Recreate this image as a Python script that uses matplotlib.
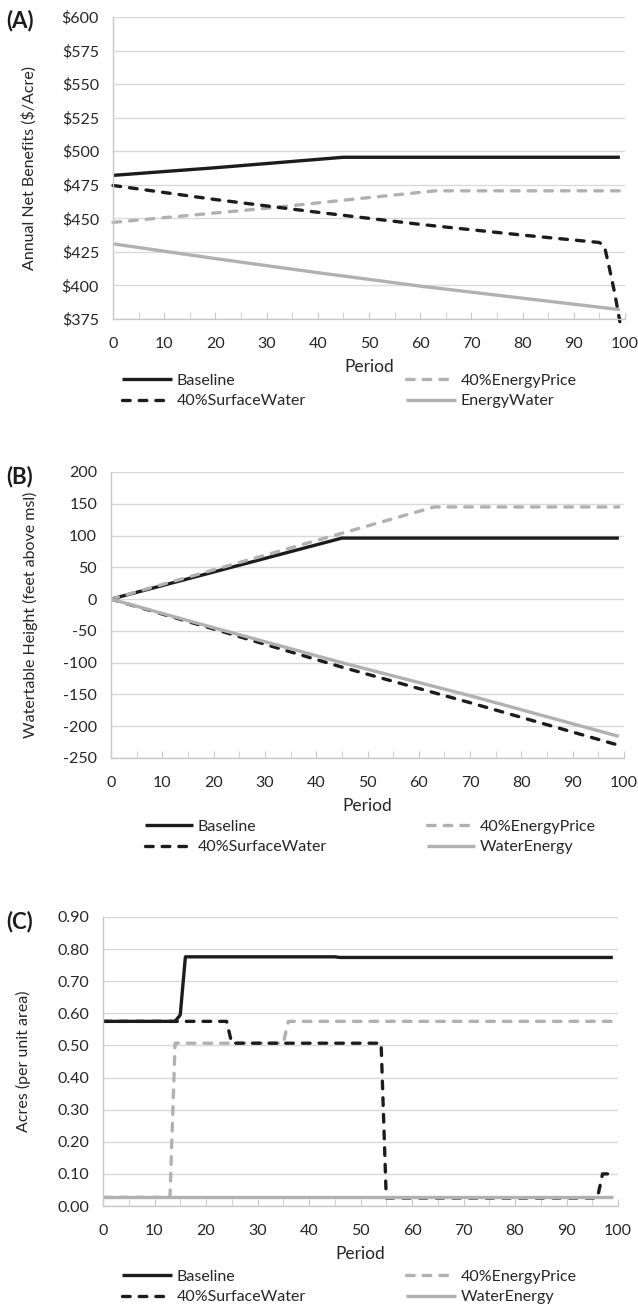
import matplotlib
matplotlib.use("Agg")
import matplotlib.pyplot as plt
from matplotlib.lines import Line2D
from matplotlib.ticker import FuncFormatter, MultipleLocator

plt.rcParams["font.family"] = ["Lato", "DejaVu Sans"]
plt.rcParams["axes.unicode_minus"] = False

# ── data (period breakpoints, values) ────────────────────────────────────────

# (A) annual net benefits, $/acre
a_base_x = [0, 20, 45, 99]
a_base_y = [482, 487.7, 495.5, 495.5]
a_ep_x = [0, 30, 45, 63, 99]
a_ep_y = [447, 457.5, 463.5, 470.5, 470.5]
a_sw_x = [0, 20, 40, 60, 80, 95, 96, 97, 98, 99]
a_sw_y = [474.5, 464, 454.5, 445.5, 437.5, 432, 429, 412, 394, 373]
a_we_x = [0, 20, 40, 60, 80, 99]
a_we_y = [431, 420, 409.5, 399.5, 390.5, 382]

# (B) watertable height, feet above msl
b_base_x = [0, 45, 99]
b_base_y = [0, 96, 96]
b_ep_x = [0, 63, 99]
b_ep_y = [0, 145, 145]
b_sw_x = [0, 20, 45, 70, 99]
b_sw_y = [0, -47, -107, -163, -230]
b_we_x = [0, 20, 45, 70, 99]
b_we_y = [0, -45, -100, -152, -216]

# (C) acres per unit area
c_base_x = [0, 14, 15, 16, 45, 46, 99]
c_base_y = [0.575, 0.575, 0.595, 0.776, 0.776, 0.774, 0.774]
c_ep_x = [0, 13, 14, 35, 36, 99]
c_ep_y = [0.027, 0.027, 0.507, 0.507, 0.575, 0.575]
c_sw_x = [0, 24, 25, 54, 55, 96, 97, 99]
c_sw_y = [0.575, 0.575, 0.507, 0.507, 0.025, 0.025, 0.100, 0.100]
c_we_x = [0, 99]
c_we_y = [0.028, 0.028]

A_TICKS = [375, 400, 425, 450, 475, 500, 525, 550, 575, 600]
B_TICKS = [-250, -200, -150, -100, -50, 0, 50, 100, 150, 200]
C_TICKS = [0.0, 0.1, 0.2, 0.3, 0.4, 0.5, 0.6, 0.7, 0.8, 0.9]

# ── styles ───────────────────────────────────────────────────────────────────

BLACK = "#1c1c1c"
GRAY = "#b1b1b1"
GRID = "#d9d9d9"
TEXT = "#262626"
LW = 2.4
DASH = (2.3, 2.7)
FS = 11.5

STYLES = {
    "base": dict(color=BLACK, lw=LW, solid_capstyle="butt"),
    "ep":   dict(color=GRAY, lw=LW, dashes=DASH, dash_capstyle="round"),
    "sw":   dict(color=BLACK, lw=LW, dashes=DASH, dash_capstyle="round"),
    "we":   dict(color=GRAY, lw=LW, solid_capstyle="butt"),
}

W, H = 638, 1309
fig = plt.figure(figsize=(W / 100, H / 100), dpi=100)


def px_axes(left, top, right, bottom):
    return fig.add_axes([left / W, 1 - bottom / H, (right - left) / W, (bottom - top) / H])


def style_axes(ax, ticks, fmt, ylabel, label_x):
    ax.set_xlim(0, 100)
    ax.set_ylim(ticks[0], ticks[-1])
    ax.set_yticks(ticks)
    ax.yaxis.set_major_formatter(FuncFormatter(fmt))
    ax.xaxis.set_major_locator(MultipleLocator(10))
    ax.xaxis.set_minor_locator(MultipleLocator(5))
    ax.grid(axis="y", color=GRID, lw=1.0)
    ax.set_axisbelow(True)
    for s in ("top", "right"):
        ax.spines[s].set_visible(False)
    for s in ("left", "bottom"):
        ax.spines[s].set_color("#c8c8c8")
        ax.spines[s].set_linewidth(1.0)
    ax.tick_params(axis="y", length=0, pad=10, labelsize=FS, labelcolor=TEXT)
    ax.tick_params(axis="x", which="both", direction="in", length=5, color="#c8c8c8",
                   pad=13, labelsize=FS, labelcolor=TEXT)
    ax.set_xlabel("Period", fontsize=12.5, color=TEXT, labelpad=6)
    ax.set_ylabel(ylabel, fontsize=FS, color=TEXT)
    # ylabel centre at a given pixel column
    pos = ax.get_position()
    ax.yaxis.set_label_coords((label_x / W - pos.x0) / pos.width, 0.5)


def draw(ax, series, clip=True):
    for key, xs, ys in series:
        ax.plot(xs, ys, clip_on=clip, **STYLES[key])


def legend(labels, x1, x2, y_mid, hlen):
    keys = ["base", "ep", "sw", "we"]
    handles = [Line2D([], [], **STYLES[k]) for k in keys]
    for col, x in ((0, x1), (1, x2)):
        idx = [col, col + 2]
        fig.legend([handles[i] for i in idx], [labels[i] for i in idx],
                   loc="center left", bbox_to_anchor=(x / W, 1 - y_mid / H),
                   frameon=False, fontsize=FS, handlelength=hlen,
                   handletextpad=0.3, labelspacing=0.4, borderpad=0,
                   borderaxespad=0, labelcolor=TEXT)


def panel_tag(text, y):
    fig.text(6 / W, 1 - y / H, text, fontsize=16, fontweight="bold", va="center", color=BLACK)


# ── (A) ──────────────────────────────────────────────────────────────────────
ax = px_axes(113, 17, 625, 319)
draw(ax, [("base", a_base_x, a_base_y), ("ep", a_ep_x, a_ep_y),
          ("sw", a_sw_x, a_sw_y), ("we", a_we_x, a_we_y)], clip=False)
style_axes(ax, A_TICKS, lambda v, p: f"${v:.0f}", "Annual Net Benefits ($/Acre)", 37)
panel_tag("(A)", 21)
legend(["Baseline", "40%EnergyPrice", "40%SurfaceWater", "EnergyWater"], 122, 406, 391, 3.1)

# ── (B) ──────────────────────────────────────────────────────────────────────
ax = px_axes(111, 472, 624, 758)
draw(ax, [("base", b_base_x, b_base_y), ("ep", b_ep_x, b_ep_y),
          ("sw", b_sw_x, b_sw_y), ("we", b_we_x, b_we_y)])
style_axes(ax, B_TICKS, lambda v, p: f"{v:.0f}", "Watertable Height (feet above msl)", 38)
panel_tag("(B)", 477)
legend(["Baseline", "40%EnergyPrice", "40%SurfaceWater", "WaterEnergy"], 145, 427, 837, 3.0)

# ── (C) ──────────────────────────────────────────────────────────────────────
ax = px_axes(103, 917, 618, 1206)
draw(ax, [("base", c_base_x, c_base_y), ("ep", c_ep_x, c_ep_y),
          ("sw", c_sw_x, c_sw_y), ("we", c_we_x, c_we_y)])
style_axes(ax, C_TICKS, lambda v, p: f"{v:.2f}", "Acres (per unit area)", 31)
panel_tag("(C)", 922)
legend(["Baseline", "40%EnergyPrice", "40%SurfaceWater", "WaterEnergy"], 122, 406, 1287, 3.1)

fig.savefig("out.png", dpi=100)
